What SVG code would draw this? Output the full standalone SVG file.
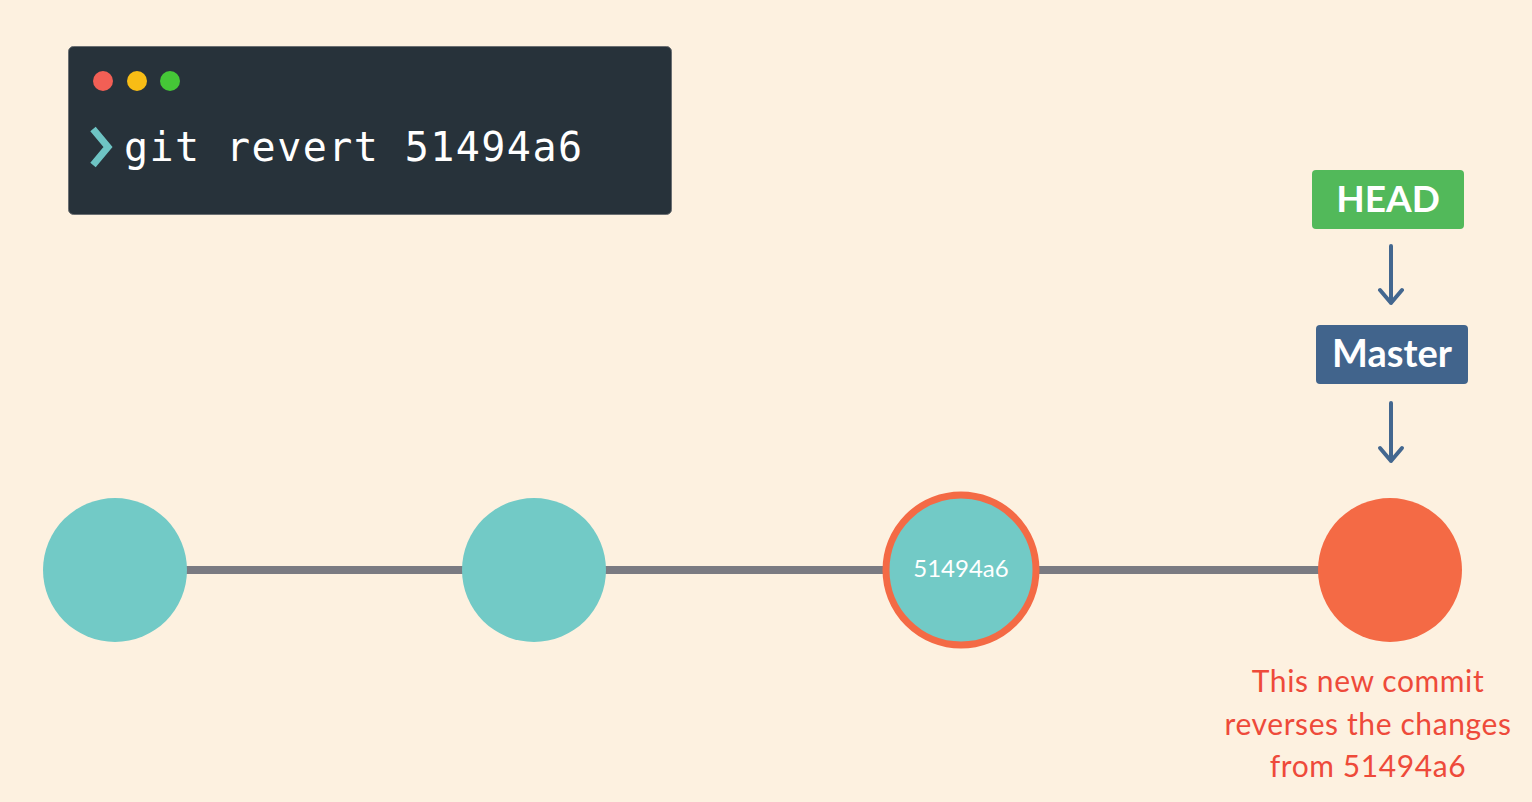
<svg xmlns="http://www.w3.org/2000/svg" width="1532" height="802" viewBox="0 0 1532 802">
<defs>
<style>
.teal{fill:#72CAC6}
.lbl{font-family:"Lato","Noto Sans",sans-serif;font-weight:700;fill:#FFFFFF;text-anchor:middle}
.note{font-family:"Lato","Noto Sans",sans-serif;fill:#EE4A3A;font-size:30px;text-anchor:middle;letter-spacing:0.6px}
.arrow{stroke:#43678F;stroke-width:4;fill:none;stroke-linecap:round;stroke-linejoin:round}
</style>
</defs>
<rect width="1532" height="802" fill="#FDF1E0"/>
<g id="terminal">
<rect x="68.5" y="46.5" width="603" height="168" rx="5" fill="#27323A" stroke="#6B6F72" stroke-width="1"/>
<circle cx="103" cy="81" r="10" fill="#F25F55"/>
<circle cx="137" cy="81" r="10" fill="#F8BD15"/>
<circle cx="170" cy="81" r="10" fill="#45C737"/>
<polyline points="93,129 108,147 93,165" fill="none" stroke="#6EC4C4" stroke-width="7"/>
<text x="124" y="161" font-family="'DejaVu Sans Mono','Liberation Mono',monospace" font-size="40" fill="#FFFFFF" textLength="458">git revert 51494a6</text>
</g>
<g id="connectors">
<line x1="115" y1="570" x2="1390" y2="570" stroke="#7A7B82" stroke-width="8"/>
<path class="arrow" d="M1391 246 V303 M1380 290 L1391 303 L1402 290"/>
<path class="arrow" d="M1391 403 V461 M1380 448 L1391 461 L1402 448"/>
</g>
<g id="commit1"><circle class="teal" cx="115" cy="570" r="72"/></g>
<g id="commit2"><circle class="teal" cx="534" cy="570" r="72"/></g>
<g id="commit3">
<circle class="teal" cx="961" cy="570" r="75" stroke="#F46A45" stroke-width="7"/>
<text class="lbl" x="961" y="577" font-size="24" style="font-weight:400">51494a6</text>
</g>
<g id="commit4"><circle cx="1390" cy="570" r="72" fill="#F46A45"/></g>
<g id="head">
<rect x="1312" y="170" width="152" height="59" rx="4" fill="#52B95A"/>
<text class="lbl" x="1388" y="212" font-size="37">HEAD</text>
</g>
<g id="master">
<rect x="1316" y="325" width="152" height="59" rx="4" fill="#41648C"/>
<text class="lbl" x="1392" y="367" font-size="38">Master</text>
</g>
<g id="note">
<text class="note" x="1368" y="692">This new commit</text>
<text class="note" x="1368" y="735">reverses the changes</text>
<text class="note" x="1368" y="777">from 51494a6</text>
</g>
</svg>
